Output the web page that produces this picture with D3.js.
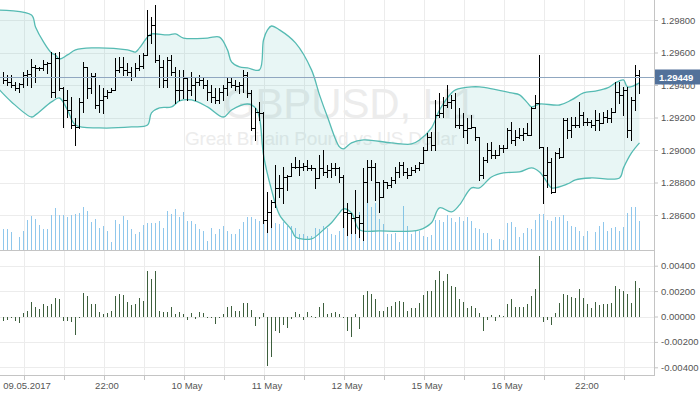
<!DOCTYPE html>
<html>
<head>
<meta charset="utf-8">
<script src="https://cdn.jsdelivr.net/npm/d3@7"></script>
<style>
    body { margin: 0; background: #fff; }
    svg { display: block; }
    text { font-family: "Liberation Sans", Arial, sans-serif; }
</style>
</head>
<body>
<script>
// GBPUSD H1 bars (bar 0 = left edge)
var opens = [1.29450,1.29431,1.29419,1.29400,1.29382,1.29406,1.29462,1.29468,1.29511,1.29505,
    1.29505,1.29529,1.29536,1.29358,1.29566,1.29382,1.29308,1.29247,1.29155,1.29142,
    1.29296,1.29511,1.29382,1.29456,1.29278,1.29308,1.29333,1.29358,1.29370,1.29493,
    1.29511,1.29493,1.29481,1.29450,1.29505,1.29517,1.29585,1.29708,1.29769,1.29554,
    1.29511,1.29431,1.29554,1.29481,1.29370,1.29370,1.29443,1.29370,1.29400,1.29419,
    1.29431,1.29400,1.29358,1.29327,1.29308,1.29358,1.29382,1.29419,1.29400,1.29394,
    1.29400,1.29462,1.29352,1.29136,1.29235,1.29229,1.28570,1.28620,1.28681,1.28767,
    1.28767,1.28835,1.28841,1.28896,1.28896,1.28896,1.28902,1.28890,1.28890,1.28829,
    1.28890,1.28866,1.28878,1.28890,1.28890,1.28835,1.28620,1.28613,1.28582,1.28589,
    1.28552,1.28804,1.28896,1.28896,1.28804,1.28712,1.28804,1.28786,1.28816,1.28866,
    1.28908,1.28866,1.28847,1.28878,1.28890,1.28921,1.29001,1.29081,1.29032,1.29216,
    1.29229,1.29278,1.29296,1.29308,1.29155,1.29155,1.29124,1.29136,1.29142,1.29081,
    1.28847,1.28939,1.29001,1.28970,1.28970,1.29013,1.29013,1.29124,1.29062,1.29081,
    1.29093,1.29105,1.29093,1.29259,1.29290,1.29019,1.28847,1.28927,1.28743,1.28982,
    1.28958,1.29185,1.29124,1.29155,1.29155,1.29216,1.29173,1.29173,1.29155,1.29185,
    1.29167,1.29204,1.29198,1.29235,1.29358,1.29339,1.29370,1.29124,1.29308,1.29462];
var highs = [1.29481,1.29462,1.29462,1.29419,1.29413,1.29481,1.29493,1.29560,1.29523,1.29511,
    1.29554,1.29542,1.29604,1.29597,1.29604,1.29388,1.29370,1.29327,1.29198,1.29321,
    1.29542,1.29511,1.29474,1.29474,1.29400,1.29382,1.29370,1.29382,1.29566,1.29573,
    1.29573,1.29536,1.29511,1.29536,1.29585,1.29597,1.29862,1.29818,1.29892,1.29585,
    1.29554,1.29573,1.29585,1.29511,1.29493,1.29493,1.29443,1.29481,1.29443,1.29462,
    1.29450,1.29431,1.29400,1.29382,1.29382,1.29400,1.29450,1.29450,1.29431,1.29419,
    1.29493,1.29481,1.29370,1.29259,1.29296,1.29235,1.28743,1.28693,1.28908,1.28847,
    1.28896,1.28847,1.28921,1.28958,1.28939,1.28921,1.28939,1.28908,1.28890,1.28970,
    1.29001,1.28908,1.28921,1.28921,1.28896,1.28847,1.28675,1.28613,1.28755,1.28601,
    1.28890,1.28939,1.28939,1.28921,1.28804,1.28816,1.28804,1.28835,1.28896,1.28927,
    1.28927,1.28890,1.28896,1.28908,1.28927,1.29019,1.29105,1.29111,1.29308,1.29352,
    1.29327,1.29400,1.29339,1.29352,1.29259,1.29229,1.29198,1.29216,1.29142,1.29081,
    1.28958,1.29044,1.29050,1.29001,1.29032,1.29032,1.29136,1.29173,1.29124,1.29136,
    1.29136,1.29167,1.29265,1.29339,1.29585,1.29019,1.29019,1.28952,1.28988,1.29013,
    1.29198,1.29198,1.29204,1.29204,1.29296,1.29235,1.29198,1.29185,1.29247,1.29229,
    1.29235,1.29247,1.29259,1.29419,1.29419,1.29388,1.29388,1.29327,1.29523,1.29493];
var lows = [1.29413,1.29400,1.29388,1.29370,1.29358,1.29388,1.29400,1.29388,1.29419,1.29493,
    1.29493,1.29474,1.29327,1.29327,1.29370,1.29142,1.29204,1.29136,1.29032,1.29136,
    1.29235,1.29321,1.29352,1.29259,1.29235,1.29229,1.29321,1.29358,1.29370,1.29481,
    1.29462,1.29462,1.29431,1.29450,1.29493,1.29505,1.29585,1.29659,1.29542,1.29388,
    1.29388,1.29388,1.29462,1.29290,1.29308,1.29321,1.29308,1.29339,1.29308,1.29400,
    1.29382,1.29308,1.29296,1.29290,1.29290,1.29308,1.29339,1.29388,1.29370,1.29352,
    1.29358,1.29327,1.29124,1.29062,1.29185,1.28552,1.28497,1.28527,1.28650,1.28712,
    1.28675,1.28755,1.28841,1.28890,1.28847,1.28878,1.28878,1.28878,1.28767,1.28829,
    1.28847,1.28835,1.28835,1.28847,1.28804,1.28527,1.28478,1.28490,1.28490,1.28465,
    1.28447,1.28681,1.28816,1.28693,1.28620,1.28712,1.28767,1.28773,1.28798,1.28835,
    1.28847,1.28829,1.28847,1.28866,1.28878,1.28921,1.29001,1.29001,1.29001,1.29204,
    1.29204,1.29265,1.29259,1.29142,1.29136,1.29081,1.29044,1.29136,1.29062,1.28816,
    1.28829,1.28927,1.28952,1.28952,1.28970,1.28988,1.29013,1.29044,1.29032,1.29075,
    1.29062,1.29093,1.29093,1.29259,1.29013,1.28675,1.28773,1.28736,1.28743,1.28952,
    1.28958,1.29075,1.29081,1.29142,1.29142,1.29155,1.29155,1.29142,1.29124,1.29124,
    1.29167,1.29173,1.29173,1.29235,1.29290,1.29216,1.29081,1.29062,1.29247,1.29352];
var closes = [1.29431,1.29419,1.29400,1.29382,1.29406,1.29462,1.29468,1.29511,1.29505,1.29505,
    1.29529,1.29536,1.29358,1.29566,1.29382,1.29308,1.29247,1.29155,1.29142,1.29296,
    1.29511,1.29382,1.29456,1.29278,1.29308,1.29333,1.29358,1.29370,1.29493,1.29511,
    1.29493,1.29481,1.29450,1.29505,1.29517,1.29585,1.29708,1.29769,1.29554,1.29511,
    1.29431,1.29554,1.29481,1.29370,1.29370,1.29443,1.29370,1.29400,1.29419,1.29431,
    1.29400,1.29358,1.29327,1.29308,1.29358,1.29382,1.29419,1.29400,1.29394,1.29400,
    1.29462,1.29352,1.29136,1.29235,1.29229,1.28570,1.28620,1.28681,1.28767,1.28767,
    1.28835,1.28841,1.28896,1.28896,1.28896,1.28902,1.28890,1.28890,1.28829,1.28890,
    1.28866,1.28878,1.28890,1.28890,1.28835,1.28620,1.28613,1.28582,1.28589,1.28552,
    1.28804,1.28896,1.28896,1.28804,1.28712,1.28804,1.28786,1.28816,1.28866,1.28908,
    1.28866,1.28847,1.28878,1.28890,1.28921,1.29001,1.29081,1.29032,1.29216,1.29229,
    1.29278,1.29296,1.29308,1.29155,1.29155,1.29124,1.29136,1.29142,1.29081,1.28847,
    1.28939,1.29001,1.28970,1.28970,1.29013,1.29013,1.29124,1.29062,1.29081,1.29093,
    1.29105,1.29093,1.29259,1.29290,1.29019,1.28847,1.28927,1.28743,1.28982,1.28958,
    1.29185,1.29124,1.29155,1.29155,1.29216,1.29173,1.29173,1.29155,1.29185,1.29167,
    1.29204,1.29198,1.29235,1.29358,1.29339,1.29370,1.29124,1.29308,1.29462,1.29449];

// tick volume per bar
var volumes = [2100,2100,1800,0,1300,1900,3000,3400,3100,2500,2100,2100,3500,4200,3500,3500,3300,3500,3600,3700,
    4300,3900,2800,3100,2200,2400,1900,800,3000,2600,3400,3000,2100,1600,1800,2500,2700,2700,2700,2900,
    2200,3900,3600,4100,3300,3800,2900,2900,2600,2100,1900,900,2200,1600,2100,2400,1900,1600,1600,2100,
    2800,3300,3300,3100,2900,2800,2800,3000,2700,2600,2800,2400,2400,2200,1600,1600,1400,1400,2200,2100,
    2400,2200,1600,1500,1900,3000,3000,3200,3500,3800,4000,4800,4300,4700,3100,2600,1600,1600,1700,800,
    4400,2400,1600,1900,1900,1400,1300,1500,3000,3000,2800,3500,3200,2800,3300,2900,3300,2900,2200,2100,
    1700,1700,1100,0,1100,1000,2700,2800,2300,1300,1700,2200,2100,3000,3600,3600,3000,2900,3300,3300,
    3500,2900,2400,2300,1900,1400,1900,0,1800,2400,2800,1900,2200,2300,1900,2300,3700,4300,4300,2900];

// lower-panel oscillator
var oscValues = [-0.00032,-0.00026,-0.00013,-0.00037,-0.00053,0.00029,0.00047,0.00116,0.00074,0.00061,
    0.00095,0.00084,0.00095,0.00142,0.00134,-0.00039,-0.00039,-0.00045,-0.00145,-0.00005,
    0.00187,0.00158,0.00095,0.00095,0.00039,0.00016,0.00026,0.00042,0.00158,0.00174,
    0.00166,0.00118,0.00089,0.00095,0.00142,0.00124,0.00355,0.00292,0.00355,0.00047,
    0.00037,0.00039,0.00071,0.00016,0.00039,0.00021,-0.00026,0.00024,-0.00018,0.00032,
    0.00024,-0.00005,-0.00008,-0.00058,-0.00013,0.00018,0.00071,0.00079,0.00042,0.00040,
    0.00110,0.00103,0.00053,-0.00071,-0.00016,0.00024,-0.00387,-0.00316,-0.00111,-0.00132,
    -0.00063,-0.00092,-0.00021,0.00032,0.00016,-0.00026,0.00037,0.00005,-0.00005,0.00074,
    0.00110,0.00016,0.00024,0.00032,0.00021,-0.00005,-0.00116,-0.00163,0.00016,-0.00100,
    0.00171,0.00197,0.00174,0.00139,0.00045,0.00042,0.00076,0.00082,0.00116,0.00121,
    0.00113,0.00047,0.00068,0.00063,0.00110,0.00166,0.00203,0.00197,0.00284,0.00355,
    0.00276,0.00337,0.00237,0.00229,0.00134,0.00115,0.00063,0.00084,0.00063,0.00024,
    -0.00113,-0.00026,0.00008,-0.00039,0.00008,0.00005,0.00095,0.00139,0.00071,0.00074,
    0.00071,0.00095,0.00158,0.00213,0.00474,-0.00045,-0.00026,-0.00068,0.00024,0.00103,
    0.00174,0.00166,0.00153,0.00142,0.00213,0.00142,0.00095,0.00063,0.00118,0.00087,
    0.00095,0.00095,0.00110,0.00237,0.00213,0.00197,0.00174,0.00103,0.00276,0.00221];

// Bollinger bands, read at the bar where the curve changes
var upperIdx = [-1,7,8,10,12,13,14,16,18,22,31,33,34,36,37,41,43,45,51,54,56,57,59,61,64,65,66,67,69,73,
    77,79,81,84,85,87,90,97,102,104,107,109,112,113,117,119,127,129,131,132,134,139,142,145,148,151,153,155,156,159];
var upperBand = [1.29861,1.29831,1.29757,1.29665,1.29597,1.29585,1.29560,1.29585,1.29616,1.29628,
    1.29616,1.29603,1.29628,1.29695,1.29714,1.29708,1.29714,1.29689,1.29689,1.29695,
    1.29616,1.29542,1.29511,1.29505,1.29493,1.29677,1.29739,1.29763,1.29739,1.29659,
    1.29493,1.29339,1.29203,1.29019,1.29007,1.29044,1.29062,1.29044,1.29037,1.29062,
    1.29136,1.29246,1.29351,1.29370,1.29388,1.29388,1.29351,1.29339,1.29290,1.29265,
    1.29283,1.29277,1.29308,1.29351,1.29363,1.29382,1.29413,1.29431,1.29388,1.29413];
var lowerIdx = [-1,2,7,8,12,14,16,18,24,32,36,37,39,42,44,47,51,55,57,61,63,64,65,67,69,72,73,77,80,82,
    84,85,87,89,94,104,107,109,112,114,117,119,122,125,129,132,134,136,137,141,143,147,154,155,157,159];
var lowerBand = [1.29370,1.29296,1.29203,1.29216,1.29296,1.29320,1.29246,1.29154,1.29136,1.29142,
    1.29154,1.29228,1.29259,1.29265,1.29302,1.29308,1.29265,1.29203,1.29246,1.29283,
    1.29259,1.29197,1.28970,1.28755,1.28601,1.28509,1.28465,1.28453,1.28509,1.28552,
    1.28613,1.28638,1.28613,1.28509,1.28502,1.28509,1.28552,1.28644,1.28619,1.28662,
    1.28767,1.28767,1.28834,1.28859,1.28865,1.28890,1.28865,1.28798,1.28767,1.28791,
    1.28816,1.28828,1.28828,1.28890,1.28982,1.29044];

var lastPrice = 1.29449;
var priceTicks = [1.286, 1.288, 1.290, 1.292, 1.294, 1.296, 1.298];
var oscTicks = [-0.004, -0.002, 0, 0.002, 0.004];
var timeTickIdx = [5, 25, 45, 65, 85, 105, 125, 145];
var timeLabels = ["09.05.2017", "22:00", "10 May", "11 May", "12 May", "15 May", "16 May", "22:00"];

(function () {
    var width = 700,
        height = 394,
        plotRight = 654,
        mainBottom = 250,
        oscBottom = 375;

    var gridColor = "#ececec",
        axisColor = "#c4c4c4",
        labelColor = "#555";

    var svg = d3.select("body")
        .append("svg")
        .attr("width", width)
        .attr("height", height);

    var x = d3.scaleLinear().domain([0, 159]).range([3.5, 639.5]);
    var y = d3.scaleLinear().domain([1.286, 1.298]).range([215, 20]);
    var yVol = d3.scaleLinear().domain([0, 5000]).range([mainBottom, 200]);
    var yOsc = d3.scaleLinear().domain([-0.004, 0.004]).range([367.3, 265.7]);

    svg.append("clipPath").attr("id", "clipMain")
        .append("rect").attr("x", 0).attr("y", 0).attr("width", plotRight).attr("height", mainBottom);

    // grid
    var grid = svg.append("g").attr("shape-rendering", "crispEdges");
    var gridIdx = d3.range(5, 160, 10);
    grid.selectAll(".vgrid")
        .data(gridIdx)
        .enter().append("line")
        .attr("x1", function (d) { return Math.round(x(d)) + 0.5; })
        .attr("x2", function (d) { return Math.round(x(d)) + 0.5; })
        .attr("y1", 0)
        .attr("y2", oscBottom)
        .attr("stroke", gridColor);
    grid.selectAll(".hgrid")
        .data(priceTicks)
        .enter().append("line")
        .attr("x1", 0).attr("x2", plotRight)
        .attr("y1", function (d) { return Math.round(y(d)) + 0.5; })
        .attr("y2", function (d) { return Math.round(y(d)) + 0.5; })
        .attr("stroke", gridColor);
    grid.selectAll(".ogrid")
        .data(oscTicks)
        .enter().append("line")
        .attr("x1", 0).attr("x2", plotRight)
        .attr("y1", function (d) { return Math.round(yOsc(d)) + 0.5; })
        .attr("y2", function (d) { return Math.round(yOsc(d)) + 0.5; })
        .attr("stroke", gridColor);

    var main = svg.append("g").attr("clip-path", "url(#clipMain)");

    // watermark
    main.append("text")
        .attr("x", 223).attr("y", 118)
        .attr("font-size", 42)
        .attr("textLength", 253)
        .attr("fill", "#ececec")
        .text("GBPUSD, H1");
    main.append("text")
        .attr("x", 185).attr("y", 145)
        .attr("font-size", 19)
        .attr("textLength", 272)
        .attr("fill", "#ececec")
        .text("Great Britain Pound vs US Dollar");

    // volumes
    main.append("g")
        .attr("shape-rendering", "crispEdges")
        .selectAll("rect")
        .data(volumes)
        .enter().append("rect")
        .attr("x", function (d, i) { return x(i) - 0.5; })
        .attr("width", 1)
        .attr("y", function (d) { return yVol(d); })
        .attr("height", function (d) { return mainBottom - yVol(d); })
        .attr("fill", "#8fc7ec");

    // bands
    var bandLine = d3.line()
        .x(function (d) { return x(d[0]); })
        .y(function (d) { return y(d[1]); })
        .curve(d3.curveCatmullRom.alpha(0.5));
    var upperPts = d3.zip(upperIdx, upperBand),
        lowerPts = d3.zip(lowerIdx, lowerBand);
    var fillPath = bandLine(upperPts) + "L" + bandLine(lowerPts.slice().reverse()).substring(1) + "Z";
    main.append("path")
        .attr("d", fillPath)
        .attr("fill", "rgba(64,178,170,0.12)");
    [upperPts, lowerPts].forEach(function (pts) {
        main.append("path")
            .attr("d", bandLine(pts))
            .attr("fill", "none")
            .attr("stroke", "#56bbb3")
            .attr("stroke-width", 1.3);
    });

    // last price line
    var yLast = Math.round(y(lastPrice)) + 0.5;
    svg.append("line")
        .attr("x1", 0).attr("x2", plotRight)
        .attr("y1", yLast).attr("y2", yLast)
        .attr("stroke", "#90a7c0")
        .attr("stroke-width", 1);

    // OHLC bars
    var bars = main.append("g")
        .attr("stroke", "#000")
        .attr("stroke-width", 1)
        .attr("shape-rendering", "crispEdges");
    closes.forEach(function (c, i) {
        var cx = x(i);
        bars.append("line")
            .attr("x1", cx).attr("x2", cx)
            .attr("y1", Math.round(y(highs[i]))).attr("y2", Math.round(y(lows[i])) + 1);
        bars.append("line")
            .attr("x1", cx - 2.5).attr("x2", cx)
            .attr("y1", Math.round(y(opens[i])) + 0.5).attr("y2", Math.round(y(opens[i])) + 0.5);
        bars.append("line")
            .attr("x1", cx).attr("x2", cx + 2.5)
            .attr("y1", Math.round(y(c)) + 0.5).attr("y2", Math.round(y(c)) + 0.5);
    });

    // oscillator histogram
    svg.append("g")
        .attr("shape-rendering", "crispEdges")
        .selectAll("rect")
        .data(oscValues)
        .enter().append("rect")
        .attr("x", function (d, i) { return x(i) - 0.5; })
        .attr("width", 1)
        .attr("y", function (d) { return Math.min(yOsc(d), yOsc(0)); })
        .attr("height", function (d) { return Math.max(1, Math.abs(yOsc(d) - yOsc(0))); })
        .attr("fill", "#3d5f3d");

    // frame lines
    var frame = svg.append("g").attr("stroke", axisColor).attr("shape-rendering", "crispEdges");
    frame.append("line").attr("x1", 0).attr("x2", plotRight).attr("y1", mainBottom + 0.5).attr("y2", mainBottom + 0.5);
    frame.append("line").attr("x1", 0).attr("x2", plotRight).attr("y1", oscBottom + 0.5).attr("y2", oscBottom + 0.5);
    frame.append("line").attr("x1", plotRight + 0.5).attr("x2", plotRight + 0.5).attr("y1", 0).attr("y2", oscBottom + 1);
    frame.selectAll(".minor")
        .data(gridIdx)
        .enter().append("line")
        .attr("x1", function (d) { return Math.round(x(d)) + 0.5; })
        .attr("x2", function (d) { return Math.round(x(d)) + 0.5; })
        .attr("y1", oscBottom + 1)
        .attr("y2", oscBottom + 5);

    function styleAxis(g) {
        g.select(".domain").remove();
        g.selectAll(".tick line").attr("stroke", axisColor);
        g.selectAll(".tick text")
            .attr("fill", labelColor)
            .attr("font-size", "9.5px")
            .attr("font-family", "'Liberation Sans', Arial, sans-serif");
    }

    svg.append("g")
        .attr("transform", "translate(" + plotRight + ",0)")
        .call(d3.axisRight(y).tickValues(priceTicks).tickSize(4).tickPadding(3)
            .tickFormat(function (d) { return d.toFixed(5); }))
        .call(styleAxis);

    svg.append("g")
        .attr("transform", "translate(" + plotRight + ",0)")
        .call(d3.axisRight(yOsc).tickValues(oscTicks).tickSize(4).tickPadding(3)
            .tickFormat(function (d) { return d.toFixed(5); }))
        .call(styleAxis);

    svg.append("g")
        .attr("transform", "translate(0," + oscBottom + ")")
        .call(d3.axisBottom(x).tickValues(timeTickIdx).tickSize(0).tickPadding(7)
            .tickFormat(function (d, i) { return timeLabels[i]; }))
        .call(styleAxis)
        .selectAll(".tick text").attr("dx", 3);

    // last price tag
    svg.append("rect")
        .attr("x", plotRight + 1).attr("y", yLast - 8)
        .attr("width", 45).attr("height", 15)
        .attr("fill", "#52719a");
    svg.append("text")
        .attr("x", plotRight + 5).attr("y", yLast + 3.5)
        .attr("fill", "#fff")
        .attr("font-size", "9.5px")
        .attr("font-weight", "bold")
        .text(lastPrice.toFixed(5));
})();
</script>
</body>
</html>
